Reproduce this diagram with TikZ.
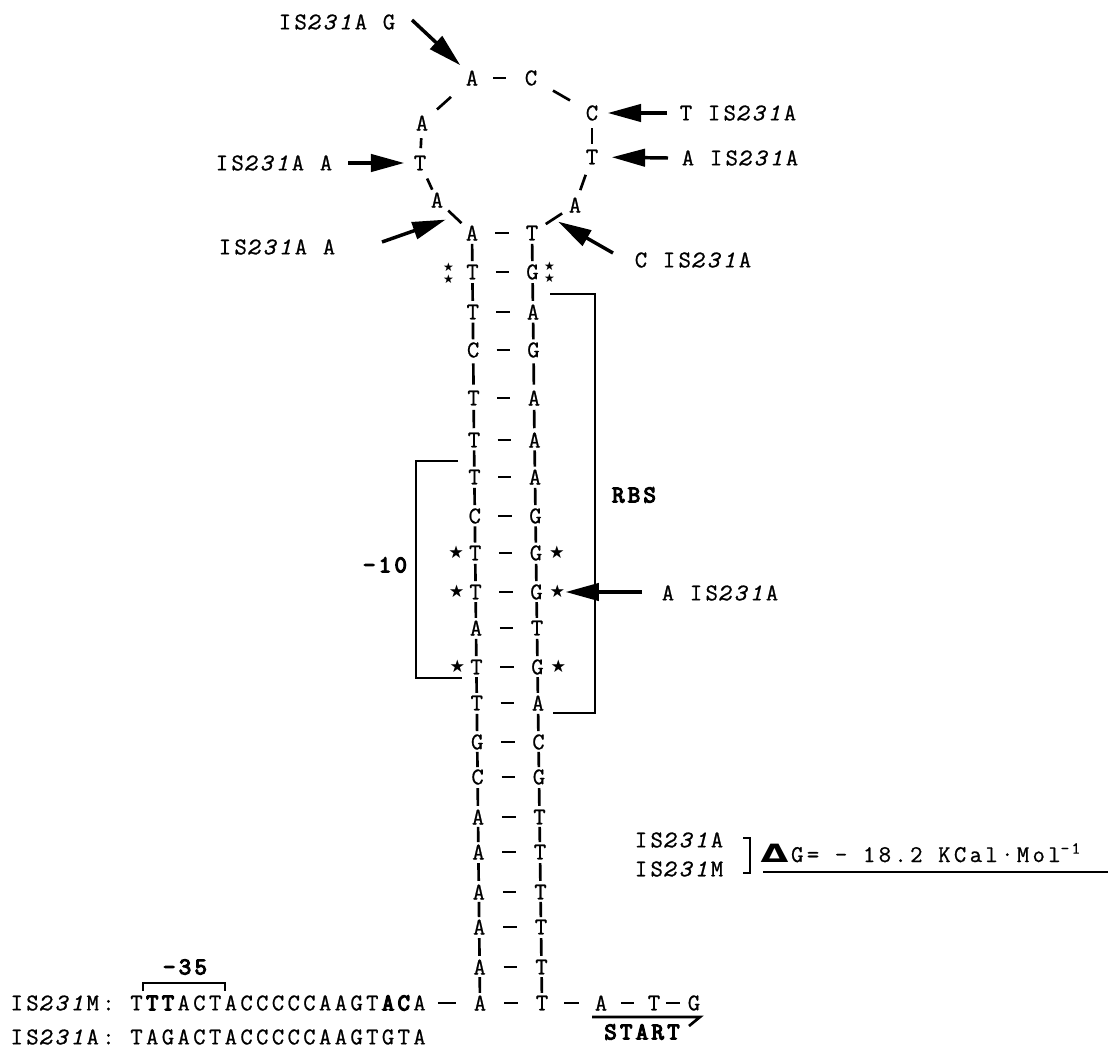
\documentclass[tikz,border=0pt]{standalone}
\usepackage{fontspec}
\setmainfont{Latin Modern Mono}[LetterSpace=14,
  UprightFeatures={FakeBold=0.8}, ItalicFeatures={FakeBold=0.8},
  BoldFont={Latin Modern Mono}, BoldFeatures={FakeBold=5}]
\newfontfamily\djv{DejaVu Sans}
\usetikzlibrary{arrows.meta,calc}
\newcommand{\istwo}[1]{IS\textit{231}#1}

\begin{document}
\begin{tikzpicture}[x=0.75pt, y=-0.75pt,
  every node/.style={inner sep=1pt, font=\fontsize{18}{21}\selectfont},
  bond/.style={line width=2pt},
  arr/.style={line width=2.6pt, -{Triangle[length=25pt,width=13pt]}},
  brk/.style={line width=2pt},
  boldlbl/.style={font=\fontsize{18}{21}\selectfont\bfseries},
  starmark/.style={font=\djv\fontsize{13}{13}\selectfont, inner sep=0pt},
  smallstar/.style={font=\djv\fontsize{9}{9}\selectfont, inner sep=0pt}]
\useasboundingbox (0,0) rectangle (1115,1053);

% loop
\node (tA) at (472,78) {A};
\node (tC) at (531,78) {C};
\node (lA) at (422,123) {A};
\node (lT) at (420,163) {T};
\node (lA2) at (437,200) {A};
\node (rC) at (592,113) {C};
\node (rT) at (592,157) {T};
\node (rA) at (575,205) {A};

% stem
\foreach \y/\lft/\rgt [count=\i] in {233/A/T, 272/T/G, 312/T/A, 350/C/G, 398/T/A, 440/T/A, 477/T/A, 516/C/G, 553/T/G, 592/T/G, 628/A/T, 667/T/G, 703/T/A, 742/G/C, 777/C/G, 817/A/T, 852/A/T, 892/A/T, 927/A/T, 967/A/T, 1003/A/T} {
  \node (l\i) at ({472+0.4*(\i-1)},\y) {\lft};
  \node (r\i) at ({532+0.5*(\i-1)},\y) {\rgt};
}
\foreach \i in {1,...,21}
  \draw[bond] ($(l\i)!.39!(r\i)$) -- ($(l\i)!.61!(r\i)$);
\foreach \i [count=\j from 2] in {1,...,20} {
  \draw[bond] ($(l\i)!.28!(l\j)$) -- ($(l\i)!.72!(l\j)$);
  \draw[bond] ($(r\i)!.28!(r\j)$) -- ($(r\i)!.72!(r\j)$);
}

\draw[bond] ($(tA)!.36!(tC)$) -- ($(tA)!.58!(tC)$);
\draw[bond] ($(tA)!.42!(lA)$) -- ($(tA)!.7!(lA)$);
\draw[bond] ($(lA)!.38!(lT)$) -- ($(lA)!.63!(lT)$);
\draw[bond] ($(lT)!.42!(lA2)$) -- ($(lT)!.72!(lA2)$);
\draw[bond] ($(lA2)!.32!(l1)$) -- ($(lA2)!.7!(l1)$);
\draw[bond] ($(tC)!.36!(rC)$) -- ($(tC)!.64!(rC)$);
\draw[bond] ($(rC)!.35!(rT)$) -- ($(rC)!.7!(rT)$);
\draw[bond] ($(rT)!.37!(rA)$) -- ($(rT)!.69!(rA)$);
\draw[bond] ($(rA)!.3!(r1)$) -- ($(rA)!.68!(r1)$);

\foreach \i in {9,10,12} {
  \node[starmark] (sl\i) at ($(l\i)+(-19,-1)$) {★};
  \node[starmark] (sr\i) at ($(r\i)+(21,-1)$) {★};
}
\node[smallstar] (dsl1) at ($(l2)+(-24,-5)$) {★};
\node[smallstar] (dsl2) at ($(l2)+(-24,7)$) {★};
\node[smallstar] (dsr1) at ($(r2)+(17,-6)$) {★};
\node[smallstar] (dsr2) at ($(r2)+(17,6)$) {★};

% mutations
\node (labG) at (337,22) {\istwo{A} G};
\node (labA1) at (274,163) {\istwo{A} A};
\node (labA2) at (277,247) {\istwo{A} A};
\node (labT) at (738,113) {T \istwo{A}};
\node (labA3) at (740,158) {A \istwo{A}};
\node (labC) at (693,260) {C \istwo{A}};
\node (labA4) at (720,593) {A \istwo{A}};

\coordinate (g1) at (412,20);
\draw[arr, shorten >=4pt] (g1) -- (tA.north west);
\coordinate (g2) at (348,163);
\draw[arr, shorten >=6pt] (g2) -- (lT);
\coordinate (g3) at (382,242);
\draw[arr, shorten >=7pt] (g3) -- ($(lA2)!.5!(l1)$);
\coordinate (g4) at (667,113);
\draw[arr, shorten >=6pt] (g4) -- (rC);
\coordinate (g5) at (668,158);
\draw[arr, shorten >=9pt] (g5) -- (rT);
\coordinate (g6) at (613,253);
\draw[arr, shorten >=4pt] (g6) -- ($(rA)!.5!(r1)$);
\coordinate (g7) at (642,592);
\draw[arr, shorten >=16pt] (g7) -- (r10);

% brackets
\draw[brk] (458,461) -- (416,461) -- (416,678) -- (462,678);
\node[boldlbl] (m10) at (385,565) {-10};
\draw[brk] (550,294) -- (595,294) -- (595,713) -- (553,713);
\node[boldlbl] (rbs) at (634,495) {RBS};

% bottom
\node[anchor=west] (seqM) at (9,1003) {\istwo{M}: T\textbf{TT}ACTACCCCCAAGT\textbf{AC}A};
\node[anchor=west] (seqA) at (9,1037) {\istwo{A}: TAGACTACCCCCAAGTGTA};
\node (bA) at (601,1003) {A};
\node (bT) at (654,1003) {T};
\node (bG) at (694,1003) {G};
\draw[bond] ($(seqM.east)!.2!(l21)$) -- ($(seqM.east)!.55!(l21)$);
\draw[bond] ($(r21)!.38!(bA)$) -- ($(r21)!.62!(bA)$);
\draw[bond] ($(bA)!.38!(bT)$) -- ($(bA)!.62!(bT)$);
\draw[bond] ($(bT)!.3!(bG)$) -- ($(bT)!.65!(bG)$);
\node[boldlbl] (m35) at (185,967) {-35};
\draw[brk] (143,991) -- (143,983) -- (225,983) -- (225,991);
\node[boldlbl] (start) at (642,1032) {START};
\draw[brk] (592,1017) -- (700,1017) -- (689,1026);

% energy
\node (lgA) at (679,840) {\istwo{A}};
\node (lgM) at (679,869) {\istwo{M}};
\draw[brk] (743,838) -- (750,838) -- (750,873) -- (743,873);
\node[anchor=base west] (dg) at (759,862) {\scalebox{1.5}[1.05]{\djv\bfseries Δ}\hspace{2pt}G= - 18.2 KCal·Mol\textsuperscript{-1}};
\draw[brk] (763,872) -- (1108,872);
\end{tikzpicture}
\end{document}
